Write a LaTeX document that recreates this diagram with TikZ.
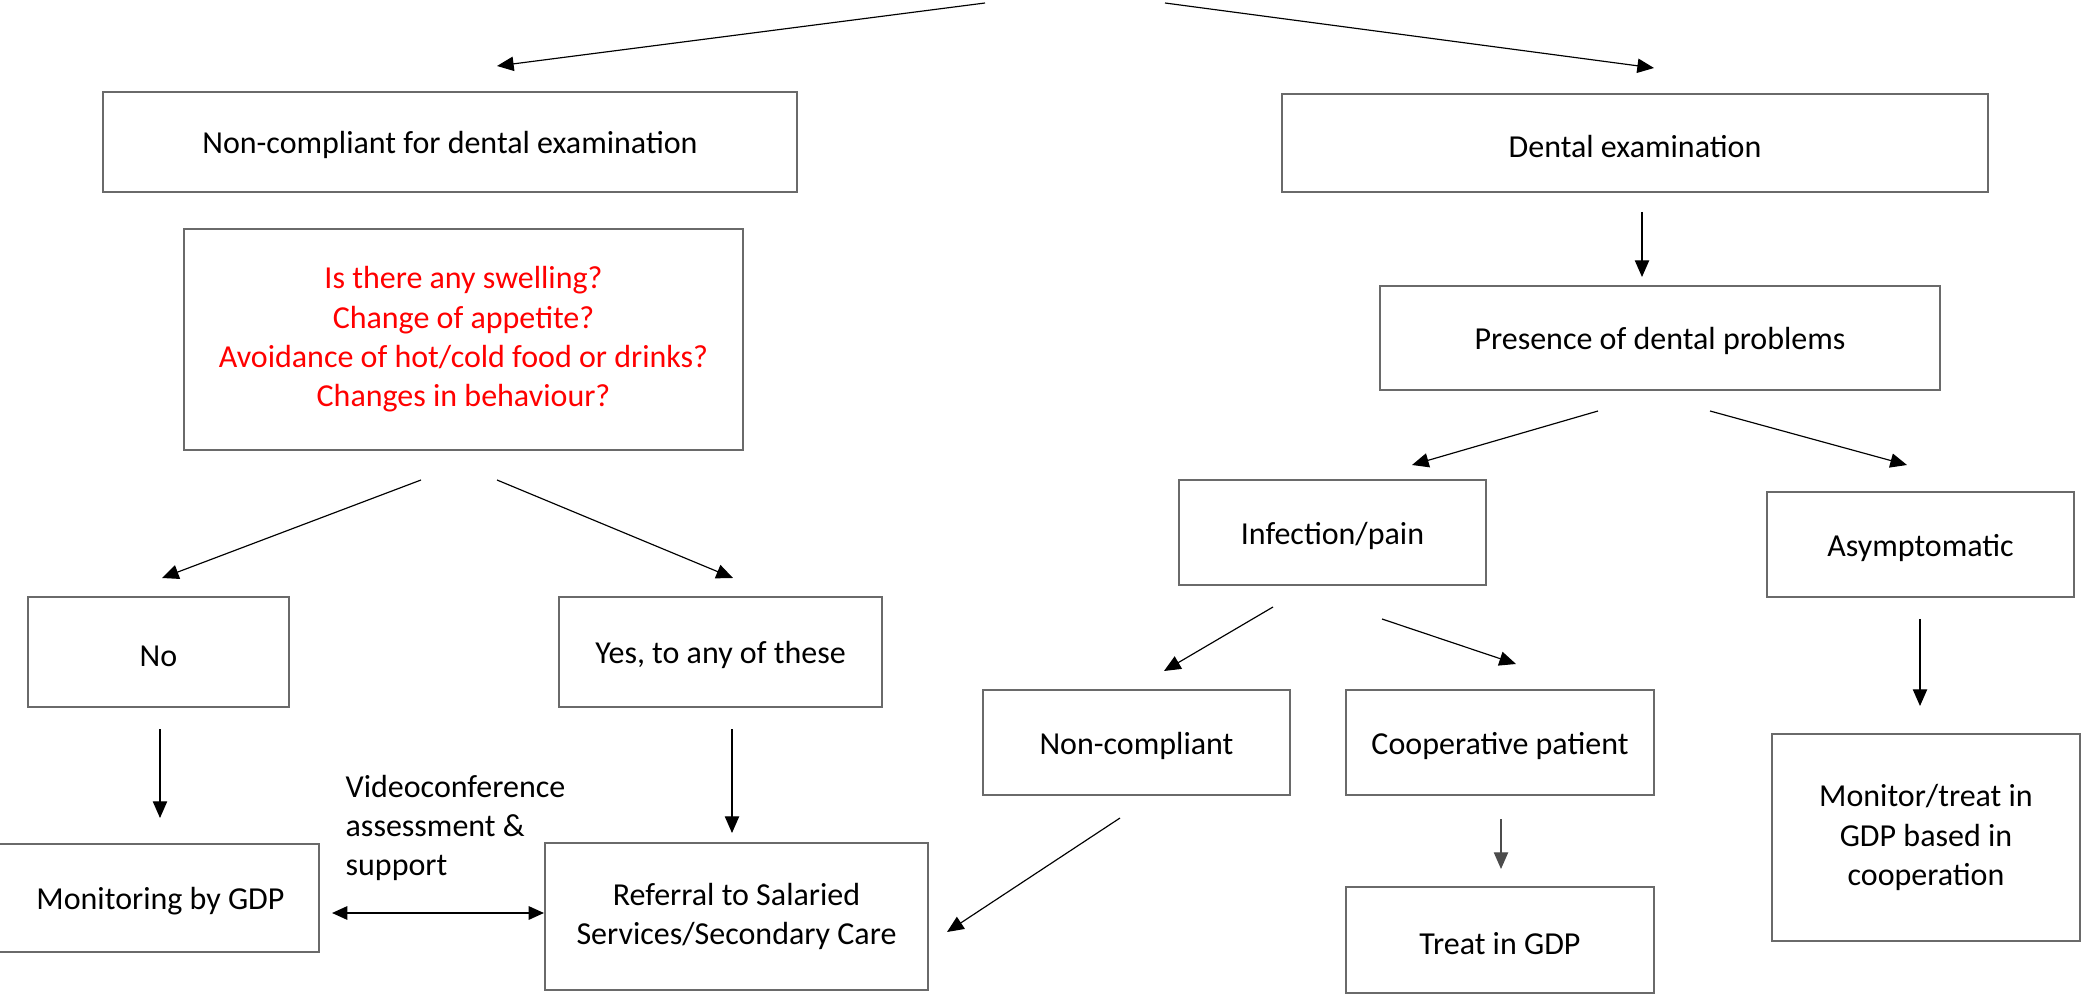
\documentclass[tikz,border=0pt]{standalone}
\usepackage{fontspec}
\setmainfont{Carlito}
\usetikzlibrary{arrows.meta}
\definecolor{boxline}{HTML}{6A6A6A}
\definecolor{qred}{HTML}{FF0000}
\begin{document}
\begin{tikzpicture}[x=0.3pt,y=-0.3pt,
  every node/.style={font=\fontsize{9.6}{11.8}\selectfont},
  box/.style={draw=boxline,line width=0.6pt,rectangle,align=center,inner sep=0pt,
    execute at begin node={\rule{0pt}{0.9em}}},
  flow/.style={draw=black,line width=0.35pt,-{Triangle[length=5pt,width=4.3pt]}},
  twoway/.style={draw=black,line width=0.6pt,{Triangle[length=4.6pt,width=4pt]}-{Triangle[length=4.6pt,width=4pt]}}]
\useasboundingbox (0,0) rectangle (2086,1000);

% boxes: centre, width and height in pixel units
\node[box,minimum width=694*0.3pt,minimum height=100*0.3pt] (nc) at (450,142) {Non-compliant for dental examination};
\node[box,minimum width=706*0.3pt,minimum height=98*0.3pt] (de) at (1635,143) {Dental examination};
\node[box,minimum width=559*0.3pt,minimum height=221*0.3pt,text=qred] (q) at (463.5,339.5)
  {Is there any swelling?\\Change of appetite?\\Avoidance of hot/cold food or drinks?\\Changes in behaviour?};
\node[box,minimum width=560*0.3pt,minimum height=104*0.3pt] (pr) at (1660,338) {Presence of dental problems};
\node[box,minimum width=261*0.3pt,minimum height=110*0.3pt] (no) at (158.5,652) {No};
\node[box,minimum width=323*0.3pt,minimum height=110*0.3pt] (yes) at (720.5,652) {Yes, to any of these};
\node[box,minimum width=307*0.3pt,minimum height=105*0.3pt] (inf) at (1332.5,532.5) {Infection/pain};
\node[box,minimum width=307*0.3pt,minimum height=105*0.3pt] (asy) at (1920.5,544.5) {Asymptomatic};
\node[box,minimum width=307*0.3pt,minimum height=105*0.3pt] (ncp) at (1136.5,742.5) {Non-compliant};
\node[box,minimum width=308*0.3pt,minimum height=105*0.3pt] (coop) at (1500,742.5) {Cooperative patient};
\node[box,minimum width=308*0.3pt,minimum height=106*0.3pt] (treat) at (1500,940) {Treat in GDP};
\node[box,minimum width=308*0.3pt,minimum height=207*0.3pt] (mon) at (1926,837.5) {Monitor/treat in\\GDP based in\\cooperation};
\node[box,minimum width=330*0.3pt,minimum height=108*0.3pt] (gdp) at (154,897.5) {};
\node at (160.5,901) {Monitoring by GDP};
\node[box,minimum width=383*0.3pt,minimum height=147*0.3pt] (ref) at (736.5,916.5) {Referral to Salaried\\Services/Secondary Care};
\node[align=left,anchor=west,inner sep=0pt] (vc) at (345,828) {Videoconference\\assessment \&\\support};

% connector ends
\coordinate (t1) at (985,3);   \coordinate (t1e) at (497,66);
\coordinate (t2) at (1165,3);  \coordinate (t2e) at (1654,68);
\coordinate (d1) at (1642,212); \coordinate (d1e) at (1642,277);
\coordinate (p1) at (1598,411); \coordinate (p1e) at (1412,465);
\coordinate (p2) at (1710,411); \coordinate (p2e) at (1907,465);
\coordinate (q1) at (421,480); \coordinate (q1e) at (162,578);
\coordinate (q2) at (497,480); \coordinate (q2e) at (733,578);
\coordinate (n1) at (160,729); \coordinate (n1e) at (160,818);
\coordinate (y1) at (732,729); \coordinate (y1e) at (732,833);
\coordinate (i1) at (1273,607); \coordinate (i1e) at (1164,671);
\coordinate (i2) at (1382,619); \coordinate (i2e) at (1516,664);
\coordinate (c1) at (1501,819); \coordinate (c1e) at (1501,869);
\coordinate (a1) at (1920,619); \coordinate (a1e) at (1920,706);
\coordinate (nc1) at (1120,818); \coordinate (nc1e) at (947,932);
\coordinate (v1) at (332,913); \coordinate (v1e) at (544,913);

\draw[flow] (t1) -- (t1e);
\draw[flow] (t2) -- (t2e);
\draw[flow] (d1) -- (d1e);
\draw[flow] (p1) -- (p1e);
\draw[flow] (p2) -- (p2e);
\draw[flow] (q1) -- (q1e);
\draw[flow] (q2) -- (q2e);
\draw[flow] (n1) -- (n1e);
\draw[flow] (y1) -- (y1e);
\draw[flow] (i1) -- (i1e);
\draw[flow] (i2) -- (i2e);
\draw[flow,draw=black!70] (c1) -- (c1e);
\draw[flow] (a1) -- (a1e);
\draw[flow] (nc1) -- (nc1e);
\draw[twoway] (v1) -- (v1e);
\end{tikzpicture}
\end{document}
